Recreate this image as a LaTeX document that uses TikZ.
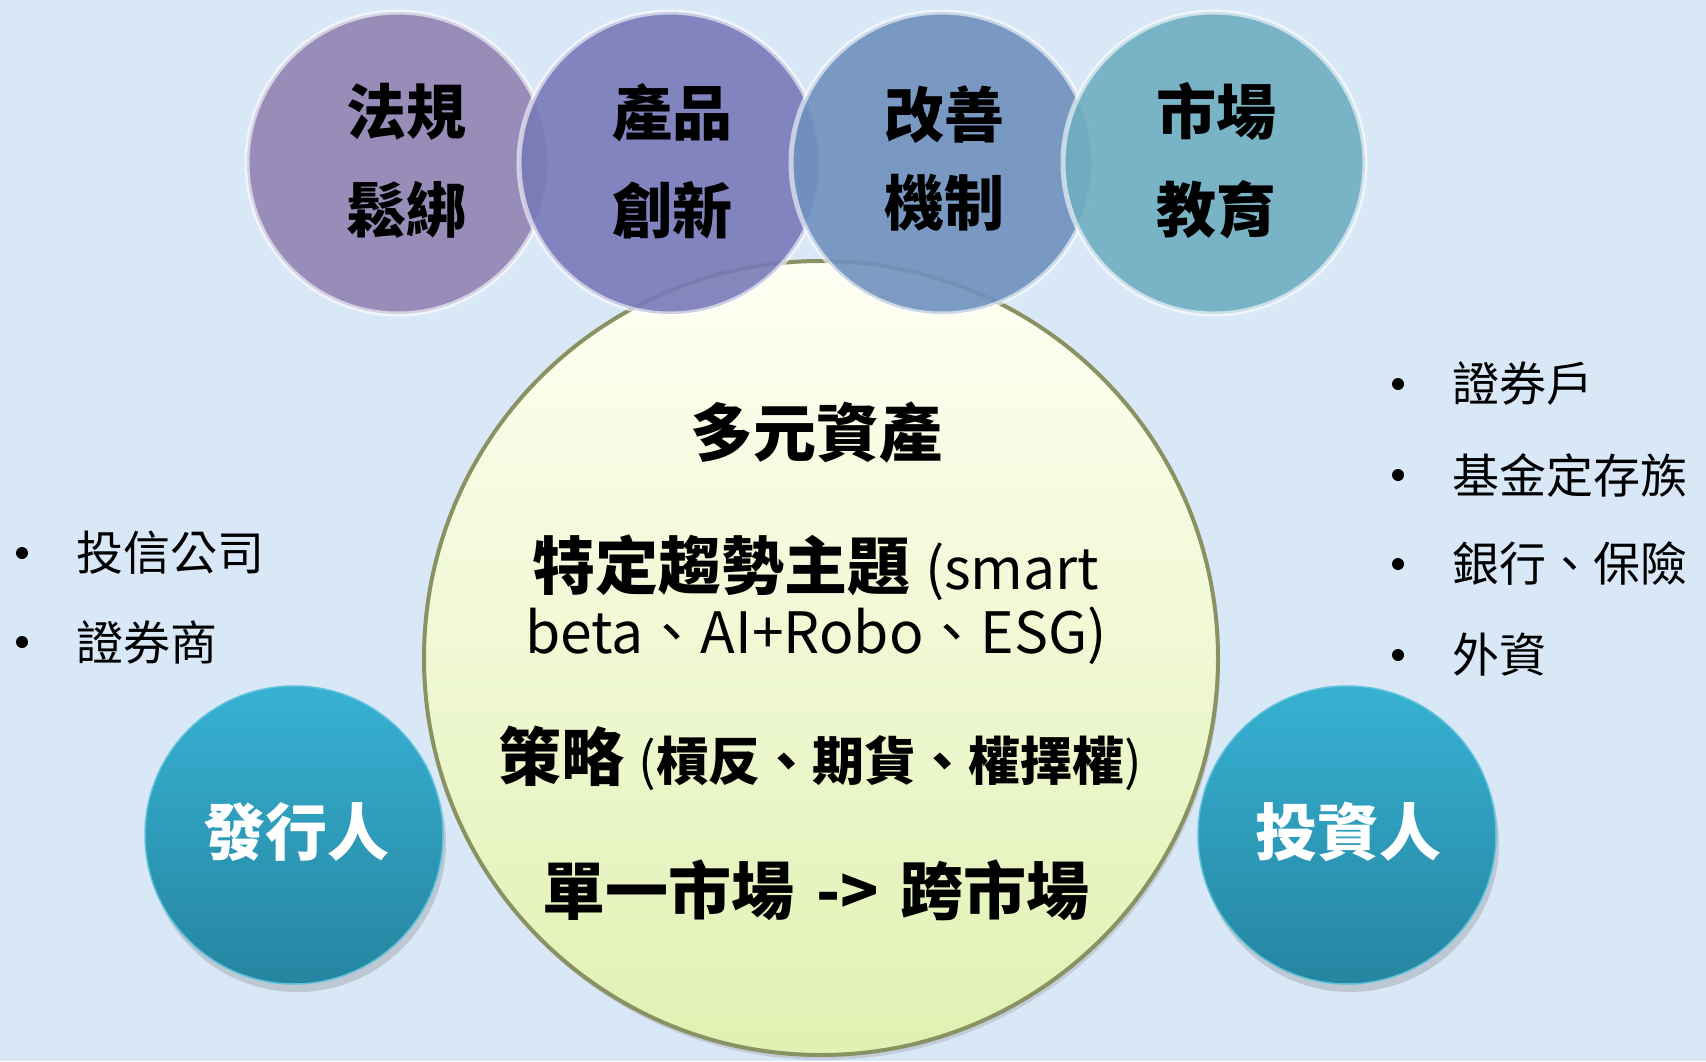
\documentclass[tikz,border=0pt]{standalone}
\usepackage{fontspec}
\setmainfont{Noto Sans CJK TC}
\usetikzlibrary{shadows}
\definecolor{bgc}{HTML}{D9E8F7}
\definecolor{ca}{HTML}{9183B2}
\definecolor{cb}{HTML}{787AB8}
\definecolor{cc}{HTML}{6F91BE}
\definecolor{cd}{HTML}{6FAEC1}
\definecolor{coretop}{HTML}{FFFFF3}
\definecolor{corebot}{HTML}{E0F1B2}
\definecolor{corerim}{HTML}{8A9163}
\definecolor{tealtop}{HTML}{37B1D3}
\definecolor{tealbot}{HTML}{2585A0}
\newcommand{\latinpart}[1]{{\mdseries\fontsize{57}{63}\selectfont #1}}
\tikzset{
  topcirc/.style={circle, minimum size=302pt, inner sep=0pt, fill opacity=0.9,
    draw=white, draw opacity=0.6, line width=5pt},
  toplabel/.style={font=\bfseries\fontsize{60}{98}\selectfont, align=center, inner sep=0pt, text=black},
  corecirc/.style={circle, minimum size=794pt, inner sep=0pt, top color=coretop, bottom color=corebot,
    draw=corerim, line width=4pt, drop shadow={shadow xshift=2pt, shadow yshift=-5pt, opacity=0.25}},
  corebig/.style={font=\bfseries\fontsize{63}{64}\selectfont, align=center, inner sep=0pt},
  tealcirc/.style={circle, minimum size=298pt, inner sep=0pt, top color=tealtop, bottom color=tealbot,
    draw=tealtop!80!white, line width=1.5pt, drop shadow={shadow xshift=3pt, shadow yshift=-8pt, opacity=0.3}},
  teallabel/.style={font=\bfseries\fontsize{62}{70}\selectfont, text=white, inner sep=0pt},
  bdot/.style={circle, fill=black, minimum size=12pt, inner sep=0pt},
  btext/.style={font=\fontsize{47}{50}\selectfont, anchor=west, inner sep=0pt}
}
\begin{document}
\begin{tikzpicture}[x=1pt,y=-1pt]
\fill[bgc] (0,0) rectangle (1706,1061);
\useasboundingbox (0,0) rectangle (1706,1061);

% central circle
\node[corecirc] (core) at (821,658) {};

% top circles
\node[topcirc, fill=ca] (c1) at (398,163) {};
\node[topcirc, fill=cb] (c2) at (670,163) {};
\node[topcirc, fill=cc] (c3) at (942,163) {};
\node[topcirc, fill=cd] (c4) at (1214,163) {};

\node[toplabel] (l1) at (406,161) {法規\\鬆綁};
\node[toplabel] (l2) at (672,161) {產品\\創新};
\node[toplabel, font=\bfseries\fontsize{60}{88}\selectfont] (l3) at (944,159) {改善\\機制};
\node[toplabel] (l4) at (1216,161) {市場\\教育};

% central texts
\node[corebig] (m1) at (816,433) {多元資產};
\node[corebig] (m2) at (816,600) {特定趨勢主題 \latinpart{(smart}\\\latinpart{beta、AI+Robo、ESG)}};
\node[corebig] (m3) at (820,758) {策略 {\fontsize{52}{54}\selectfont{\mdseries(}槓反、期貨、權擇權{\mdseries)}}};
\node[corebig] (m4) at (816,890) {單一市場\hspace{0.12em} -> \hspace{0.12em}跨市場};

% side circles
\node[tealcirc] (iss) at (294,835) {};
\node[tealcirc] (inv) at (1347,835) {};
\node[teallabel] (issl) at (296,832) {發行人};
\node[teallabel] (invl) at (1348,832) {投資人};

% left bullets
\node[bdot] (lb1) at (22,553) {};
\node[btext] (lt1) at (76,553) {投信公司};
\node[bdot] (lb2) at (22,642) {};
\node[btext] (lt2) at (76,642) {證券商};

% right bullets
\node[bdot] (rb1) at (1398,384) {};
\node[btext] (rt1) at (1452,384) {證券戶};
\node[bdot] (rb2) at (1398,475) {};
\node[btext] (rt2) at (1452,475) {基金定存族};
\node[bdot] (rb3) at (1398,564) {};
\node[btext] (rt3) at (1452,564) {銀行、保險};
\node[bdot] (rb4) at (1398,655) {};
\node[btext] (rt4) at (1452,655) {外資};
\end{tikzpicture}
\end{document}
